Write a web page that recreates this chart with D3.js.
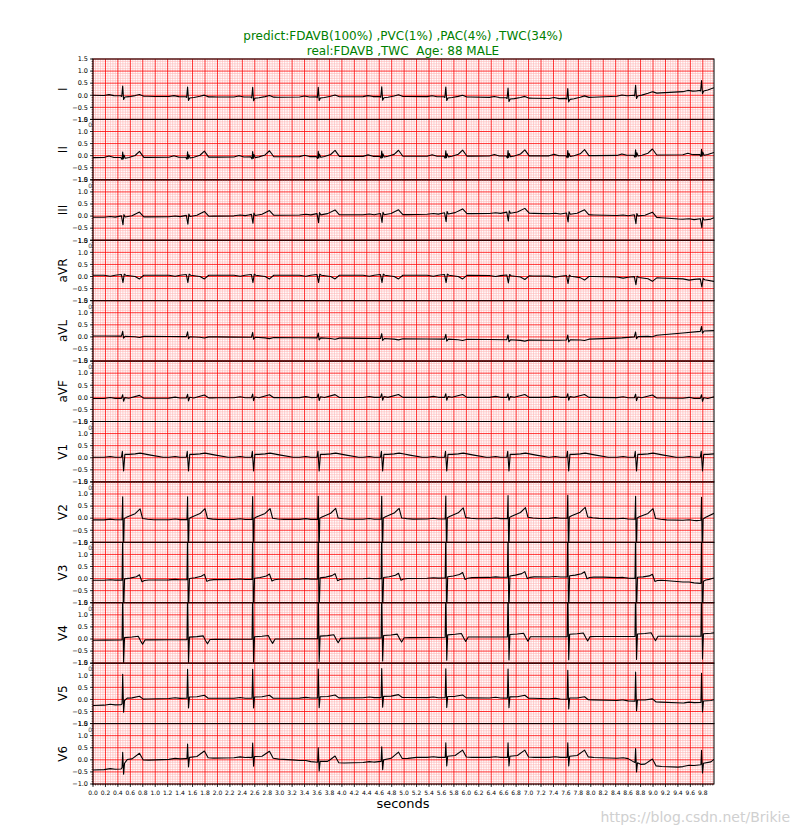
<!DOCTYPE html>
<html>
<head>
<meta charset="utf-8">
<script src="https://cdn.jsdelivr.net/npm/d3@7"></script>
<style>
  body { margin: 0; background: #fff; }
  text { font-family: "DejaVu Sans", sans-serif; white-space: pre; }
</style>
</head>
<body>
<script>
// lead names, top to bottom
const leads = ['I', 'II', 'III', 'aVR', 'aVL', 'aVF', 'V1', 'V2', 'V3', 'V4', 'V5', 'V6'];

// R-peak times (s), shared by all leads
const beatTimes = [0.477, 1.52, 2.566, 3.62, 4.64, 5.67, 6.67, 7.63, 8.72, 9.78];

// baseline drift per lead: [t (s), mV]
const baselines = {
  I:   [[0, 0], [0.4, -0.02], [1, -0.05], [2, -0.07], [3, -0.08], [4, -0.06], [5, -0.05], [6, -0.07], [7, -0.12], [7.5, -0.14], [8.6, -0.02], [9.0, 0.08], [9.7, 0.18], [9.98, 0.29]],
  II:  [[0, -0.08], [2, -0.06], [4, -0.03], [6, -0.02], [8, 0.0], [9.98, 0.05]],
  III: [[0, -0.05], [1.5, -0.02], [2.5, 0.02], [3.5, 0.05], [5, 0.06], [6, 0.1], [7, 0.12], [8, 0.05], [8.8, 0.0], [9.4, -0.12], [9.98, -0.18]],
  aVR: [[0, 0.05], [3, 0.05], [6, 0.05], [8, 0.0], [9, -0.05], [9.98, -0.15]],
  aVL: [[0, 0.04], [2, 0.0], [4, -0.05], [6, -0.1], [7.5, -0.14], [8.5, -0.04], [9.2, 0.1], [9.98, 0.28]],
  aVF: [[0, -0.05], [2, -0.02], [5, 0.0], [8, 0.0], [9.98, -0.05]],
  V1:  [[0, 0.02], [5, 0.02], [9.98, 0.02]],
  V2:  [[0, -0.07], [5, -0.04], [8, 0.0], [9.7, -0.1], [9.98, -0.05]],
  V3:  [[0, -0.07], [3, -0.03], [5, 0.0], [7, 0.07], [8.2, 0.06], [8.8, 0.0], [9.76, -0.2], [9.85, -0.12], [9.98, -0.1]],
  V4:  [[0, -0.05], [3, 0.0], [6, 0.08], [9.98, 0.12]],
  V5:  [[0, -0.25], [0.45, -0.22], [0.55, 0.0], [1.5, 0.05], [3, 0.05], [5, 0.08], [7, 0.05], [8.5, -0.05], [9.5, -0.15], [9.98, -0.1]],
  V6:  [[0, -0.42], [0.45, -0.38], [0.55, -0.05], [1.5, 0.05], [2.5, 0.1], [3.2, 0.0], [3.8, -0.15], [4.5, -0.1], [5.2, 0.1], [6.5, 0.1], [8, 0.1], [8.6, 0.05], [8.8, -0.25], [9.4, -0.3], [9.98, -0.15]]
};

// beat shape per lead: [dt from R (s), mV above baseline]
const beatShapes = {
  I:   [[-0.3, 0], [-0.22, 0.04], [-0.14, 0], [-0.03, 0], [-0.015, -0.03], [0, 0.4], [0.015, -0.15], [0.035, -0.05], [0.1, -0.03], [0.2, 0.02], [0.27, 0.07], [0.34, 0], [0.4, 0]],
  II:  [[-0.3, 0], [-0.22, 0.06], [-0.14, 0], [-0.03, 0], [-0.01, -0.08], [0, 0.22], [0.01, -0.06], [0.02, 0.1], [0.04, -0.03], [0.1, 0], [0.2, 0.08], [0.27, 0.25], [0.34, 0], [0.42, 0]],
  III: [[-0.3, 0], [-0.2, 0.03], [-0.12, 0], [-0.02, 0.05], [0.005, -0.32], [0.02, 0.1], [0.04, 0], [0.15, 0.05], [0.27, 0.2], [0.34, 0], [0.42, 0]],
  aVR: [[-0.3, 0], [-0.2, -0.04], [-0.12, 0], [-0.02, 0.03], [0.005, -0.3], [0.025, 0.05], [0.05, 0], [0.2, -0.05], [0.27, -0.15], [0.34, 0], [0.4, 0]],
  aVL: [[-0.3, 0], [-0.02, 0], [0, 0.2], [0.015, -0.08], [0.04, 0], [0.2, -0.02], [0.27, -0.05], [0.34, 0]],
  aVF: [[-0.3, 0], [-0.2, 0.04], [-0.12, 0], [-0.02, 0], [0, 0.15], [0.015, -0.12], [0.035, 0.03], [0.1, 0], [0.27, 0.12], [0.34, 0], [0.4, 0]],
  V1:  [[-0.3, 0], [-0.2, 0.03], [-0.12, 0], [-0.02, 0], [-0.005, 0.25], [0.015, -0.57], [0.035, 0.12], [0.1, 0.12], [0.2, 0.14], [0.28, 0.17], [0.45, 0.09], [0.65, 0]],
  V2:  [[-0.3, 0], [-0.2, 0.03], [-0.12, 0], [-0.01, 0], [0, 0.95], [0.012, -1.6], [0.025, 0.05], [0.06, 0.1], [0.2, 0.25], [0.28, 0.45], [0.32, 0.05], [0.4, 0.02], [0.5, 0]],
  V3:  [[-0.3, 0], [-0.2, 0.02], [-0.12, 0], [-0.01, 0], [0, 2.0], [0.012, -1.6], [0.03, 0.05], [0.12, 0.08], [0.22, 0.14], [0.27, 0.22], [0.31, -0.07], [0.35, -0.02], [0.42, 0]],
  V4:  [[-0.3, 0], [-0.01, 0], [0, 2.0], [0.015, -0.95], [0.03, 0.1], [0.15, 0.12], [0.25, 0.15], [0.29, -0.05], [0.32, -0.18], [0.36, 0], [0.45, 0]],
  V5:  [[-0.3, 0], [-0.2, 0.03], [-0.12, 0], [-0.01, 0], [0, 1.2], [0.015, -0.4], [0.03, 0.05], [0.15, 0.06], [0.27, 0.12], [0.33, 0], [0.4, 0]],
  V6:  [[-0.3, 0], [-0.2, 0.03], [-0.12, 0], [-0.01, 0], [0, 0.6], [0.015, -0.35], [0.03, 0.05], [0.15, 0.08], [0.27, 0.3], [0.33, 0.02], [0.42, 0]]
};

const yTicks = [-1, -0.5, 0, 0.5, 1, 1.5];
const titleLines = ['predict:FDAVB(100%) ,PVC(1%) ,PAC(4%) ,TWC(34%)', 'real:FDAVB ,TWC  Age: 88 MALE'];

const width = 797, height = 832;
const left = 93, right = 714, top0 = 59, bottom = 784;
const rowH = (bottom - top0) / leads.length;
const tMax = 9.98;

const x = d3.scaleLinear().domain([0, tMax]).range([left, right]);
const y = d3.scaleLinear().domain([-1, 1.5]).range([rowH, 0]);

const minorX = d3.range(0, 250).map(i => +(i * 0.04).toFixed(2)).filter(t => t <= tMax);
const minorY = d3.range(-10, 16).map(i => i / 10);
const fmt = d => d3.format('.1f')(d).replace('-', '\u2212');

const svg = d3.select('body').append('svg')
  .attr('width', width)
  .attr('height', height);

// build one lead's trace from its baseline and beat shape
function buildTrace(lead) {
  const base = baselines[lead];
  const shape = beatShapes[lead];
  const baseFn = d3.scaleLinear().domain(base.map(d => d[0])).range(base.map(d => d[1])).clamp(true);
  const shapeFn = d3.scaleLinear().domain(shape.map(d => d[0])).range(shape.map(d => d[1])).clamp(true);
  const lo = shape[0][0], hi = shape[shape.length - 1][0];
  let ts = base.map(d => d[0]);
  beatTimes.forEach(b => shape.forEach(s => ts.push(b + s[0])));
  ts = ts.filter(t => t >= 0 && t <= tMax).sort((a, b) => a - b);
  return ts.map(t => {
    let v = baseFn(t);
    beatTimes.forEach(b => {
      const dt = t - b;
      if (dt >= lo && dt <= hi) v += shapeFn(dt);
    });
    return [t, v];
  });
}

const line = d3.line().x(d => x(d[0])).y(d => y(d[1]));

const defs = svg.append('defs');

leads.forEach((lead, i) => {
  const top = top0 + i * rowH;
  const g = svg.append('g').attr('transform', `translate(0,${top})`);

  defs.append('clipPath').attr('id', `clip${i}`)
    .append('rect').attr('x', left).attr('y', 0).attr('width', right - left).attr('height', rowH);

  // minor grid
  g.append('g').selectAll('line').data(minorX.filter((t, k) => k % 5 !== 0)).enter()
    .append('line')
    .attr('x1', d => x(d)).attr('x2', d => x(d))
    .attr('y1', 0).attr('y2', rowH)
    .attr('stroke', 'rgb(255,179,179)').attr('stroke-width', 0.6);
  g.append('g').selectAll('line').data(minorY.filter(v => Math.abs(v * 2 - Math.round(v * 2)) > 1e-6)).enter()
    .append('line')
    .attr('x1', left).attr('x2', right)
    .attr('y1', d => y(d)).attr('y2', d => y(d))
    .attr('stroke', 'rgb(255,179,179)').attr('stroke-width', 0.6);

  // major grid
  g.append('g').selectAll('line').data(minorX.filter((t, k) => k % 5 === 0)).enter()
    .append('line')
    .attr('x1', d => x(d)).attr('x2', d => x(d))
    .attr('y1', 0).attr('y2', rowH)
    .attr('stroke', '#ff0000').attr('stroke-width', 0.8);
  g.append('g').selectAll('line').data(yTicks).enter()
    .append('line')
    .attr('x1', left).attr('x2', right)
    .attr('y1', d => y(d)).attr('y2', d => y(d))
    .attr('stroke', '#ff0000').attr('stroke-width', 0.8);

  // trace
  g.append('path')
    .datum(buildTrace(lead))
    .attr('clip-path', `url(#clip${i})`)
    .attr('fill', 'none')
    .attr('stroke', '#000')
    .attr('stroke-width', 1.1)
    .attr('stroke-linejoin', 'round')
    .attr('d', line);

  // frame
  g.append('rect')
    .attr('x', left).attr('y', 0)
    .attr('width', right - left).attr('height', rowH)
    .attr('fill', 'none').attr('stroke', '#000').attr('stroke-width', 1);

  // y ticks
  g.append('g').selectAll('line').data(minorY).enter()
    .append('line')
    .attr('x1', left - 1.5).attr('x2', left)
    .attr('y1', d => y(d)).attr('y2', d => y(d))
    .attr('stroke', '#000').attr('stroke-width', 0.6);
  g.append('g').selectAll('line').data(yTicks).enter()
    .append('line')
    .attr('x1', left - 3).attr('x2', left)
    .attr('y1', d => y(d)).attr('y2', d => y(d))
    .attr('stroke', '#000').attr('stroke-width', 0.8);
  g.append('g').selectAll('text').data(yTicks).enter()
    .append('text')
    .attr('x', left - 5).attr('y', d => y(d))
    .attr('dy', '0.35em')
    .attr('text-anchor', 'end')
    .attr('font-size', 6.5)
    .attr('fill', '#000')
    .text(fmt);

  if (i > 0) {
    g.append('text')
      .attr('x', left - 1).attr('y', 8)
      .attr('text-anchor', 'end')
      .attr('font-size', 6)
      .attr('fill', '#444')
      .text('0');
  }

  // lead label
  g.append('text')
    .attr('transform', `translate(67,${rowH / 2}) rotate(-90)`)
    .attr('text-anchor', 'middle')
    .attr('font-size', 12)
    .attr('fill', '#000')
    .text(lead);
});

// x axis under the last row
const xg = svg.append('g');
xg.selectAll('line.minor').data(minorX).enter()
  .append('line')
  .attr('x1', d => x(d)).attr('x2', d => x(d))
  .attr('y1', bottom).attr('y2', bottom + 1.5)
  .attr('stroke', '#000').attr('stroke-width', 0.6);
const majorX = minorX.filter((t, k) => k % 5 === 0);
xg.selectAll('line.major').data(majorX).enter()
  .append('line')
  .attr('x1', d => x(d)).attr('x2', d => x(d))
  .attr('y1', bottom).attr('y2', bottom + 3)
  .attr('stroke', '#000').attr('stroke-width', 0.8);
xg.selectAll('text').data(majorX).enter()
  .append('text')
  .attr('x', d => x(d)).attr('y', bottom + 11)
  .attr('text-anchor', 'middle')
  .attr('font-size', 6)
  .attr('fill', '#000')
  .text(fmt);

svg.append('text')
  .attr('x', 403).attr('y', 808)
  .attr('text-anchor', 'middle')
  .attr('font-size', 13)
  .attr('fill', '#000')
  .text('seconds');

// title
svg.append('g').selectAll('text').data(titleLines).enter()
  .append('text')
  .attr('x', 403).attr('y', (d, i) => 40 + i * 15)
  .attr('text-anchor', 'middle')
  .attr('font-size', 12)
  .attr('fill', '#008000')
  .text(d => d);

// watermark
svg.append('text')
  .attr('x', 790).attr('y', 822)
  .attr('text-anchor', 'end')
  .attr('font-family', '"Liberation Sans", sans-serif')
  .attr('font-size', 14)
  .attr('fill', '#d0d0d0')
  .text('https://blog.csdn.net/Brikie');
</script>
</body>
</html>
